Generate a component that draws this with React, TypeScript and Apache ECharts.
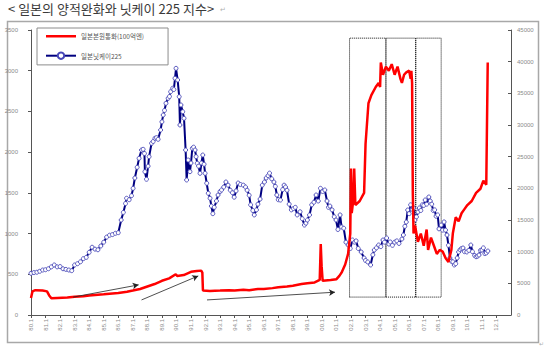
import React, { useEffect, useRef } from "react";
import * as echarts from "echarts";

const TITLE = "< 일본의 양적완화와 닛케이 225 지수>";
const SERIES_NAMES = ["일본본원통화(100억엔)", "일본닛케이225"];
const X_MIN = 1980;
const X_MAX = 2013;
const LEFT_MAX = 3500;
const LEFT_STEP = 500;
const RIGHT_MAX = 45000;
const RIGHT_STEP = 5000;

// [year, value (100억엔)]
const moneyBase: number[][] = [
  [1980.0, 210], [1980.1, 290], [1980.3, 305], [1980.8, 300], [1981.1, 290], [1981.25, 240],
  [1981.4, 205], [1981.8, 210], [1982.5, 215], [1983.0, 225], [1983.6, 230], [1984.0, 240],
  [1984.6, 250], [1985.0, 255], [1985.6, 265], [1986.0, 270], [1986.6, 285], [1987.0, 300],
  [1987.5, 320], [1988.0, 350], [1988.5, 380], [1989.0, 420], [1989.5, 450], [1989.95, 500],
  [1990.05, 480], [1990.5, 490], [1991.0, 530], [1991.4, 540], [1991.7, 545], [1991.78, 520],
  [1991.82, 300], [1992.3, 295], [1993.0, 300], [1993.6, 305], [1994.0, 300], [1994.6, 310],
  [1995.0, 305], [1995.6, 320], [1996.0, 320], [1996.6, 330], [1997.0, 340], [1997.6, 350],
  [1998.0, 360], [1998.6, 380], [1999.0, 390], [1999.5, 400], [1999.85, 430], [1999.92, 870],
  [1999.98, 600], [2000.05, 420], [2000.6, 430], [2001.0, 440], [2001.2, 480], [2001.35, 520],
  [2001.6, 620], [2001.8, 750], [2001.95, 1000], [2002.0, 1800], [2002.05, 1250], [2002.15, 1400],
  [2002.22, 1800], [2002.3, 1350], [2002.6, 1400], [2002.9, 1500], [2003.0, 2100], [2003.2, 2600],
  [2003.4, 2700], [2003.7, 2800], [2003.9, 2850], [2004.0, 2800], [2004.05, 3100], [2004.2, 2950],
  [2004.4, 3050], [2004.6, 3000], [2004.8, 3080], [2005.0, 2950], [2005.2, 3050], [2005.4, 2900],
  [2005.5, 2850], [2005.65, 2950], [2005.8, 2980], [2006.0, 3000], [2006.1, 2900], [2006.15, 3000],
  [2006.2, 2850], [2006.25, 1500], [2006.3, 1000], [2006.4, 1100], [2006.6, 900], [2006.8, 1000],
  [2007.0, 850], [2007.2, 1050], [2007.3, 800], [2007.5, 950], [2007.7, 850], [2007.9, 750],
  [2008.1, 800], [2008.3, 780], [2008.5, 700], [2008.7, 650], [2008.9, 800], [2009.0, 1000],
  [2009.2, 1200], [2009.4, 1150], [2009.6, 1250], [2009.8, 1300], [2010.0, 1350], [2010.3, 1400],
  [2010.6, 1500], [2010.9, 1550], [2011.1, 1650], [2011.3, 1600], [2011.4, 3100],
];

// [year, index level]
const nikkei225: number[][] = [
  [1980.0, 6580], [1980.2, 6700], [1980.4, 6750], [1980.6, 6900], [1980.8, 7100], [1981.0, 7150],
  [1981.2, 7300], [1981.4, 7600], [1981.6, 7900], [1981.8, 7600], [1982.0, 7650], [1982.2, 7300],
  [1982.4, 7200], [1982.6, 7100], [1982.8, 7000], [1983.0, 7900], [1983.2, 8100], [1983.4, 8400],
  [1983.6, 8900], [1983.8, 9100], [1984.0, 9900], [1984.2, 10700], [1984.4, 10400], [1984.6, 10300],
  [1984.8, 10900], [1985.0, 11500], [1985.2, 12300], [1985.4, 12600], [1985.6, 12700], [1985.8, 12900],
  [1986.0, 13000], [1986.2, 15000], [1986.35, 16200], [1986.5, 17600], [1986.57, 18430], [1986.75, 18200],
  [1986.91, 18840], [1987.02, 20000], [1987.14, 21630], [1987.3, 23320], [1987.43, 24740], [1987.6, 26050],
  [1987.71, 26160], [1987.8, 25500], [1987.83, 22630], [1987.94, 21430], [1988.05, 23500], [1988.12, 25000],
  [1988.29, 27110], [1988.4, 27400], [1988.52, 27900], [1988.63, 28000], [1988.74, 27740], [1988.91, 29210],
  [1989.0, 30500], [1989.09, 31580], [1989.18, 32300], [1989.28, 33430], [1989.43, 34220], [1989.52, 34500],
  [1989.6, 35260], [1989.74, 35800], [1989.82, 35600], [1989.9, 37380], [1989.97, 38950], [1990.08, 37110],
  [1990.19, 34470], [1990.24, 30000], [1990.31, 33160], [1990.43, 32100], [1990.52, 31060], [1990.63, 26050],
  [1990.7, 21320], [1990.81, 24470], [1990.93, 22630], [1991.0, 24000], [1991.09, 26320], [1991.18, 26500],
  [1991.28, 26050], [1991.35, 25000], [1991.43, 23950], [1991.52, 23500], [1991.62, 22370], [1991.72, 24000],
  [1991.81, 25260], [1991.9, 23800], [1991.97, 22370], [1992.08, 20800], [1992.19, 19220], [1992.31, 18430],
  [1992.4, 17200], [1992.5, 16000], [1992.6, 17000], [1992.75, 18000], [1992.86, 18950], [1993.0, 19500],
  [1993.1, 19740], [1993.25, 20200], [1993.4, 21000], [1993.55, 20500], [1993.7, 19700], [1993.85, 19300],
  [1993.97, 18600], [1994.1, 19600], [1994.24, 20840], [1994.4, 20600], [1994.6, 20500], [1994.75, 20200],
  [1994.86, 19700], [1995.0, 18900], [1995.1, 17400], [1995.25, 16500], [1995.35, 15800], [1995.5, 16600],
  [1995.6, 17500], [1995.75, 18300], [1995.9, 20500], [1996.05, 21000], [1996.17, 21630], [1996.3, 22000],
  [1996.4, 22400], [1996.55, 21500], [1996.7, 21000], [1996.8, 20300], [1996.9, 18950], [1997.0, 18200],
  [1997.15, 18150], [1997.3, 19800], [1997.4, 20500], [1997.5, 20200], [1997.6, 19700], [1997.75, 17500],
  [1997.9, 16600], [1998.05, 16800], [1998.17, 17000], [1998.3, 15800], [1998.5, 16300], [1998.65, 15200],
  [1998.8, 14200], [1998.9, 14500], [1999.0, 15000], [1999.15, 15800], [1999.3, 17400], [1999.45, 17800],
  [1999.6, 18950], [1999.75, 18000], [1999.9, 20000], [2000.05, 19500], [2000.2, 19740], [2000.35, 18000],
  [2000.45, 17000], [2000.55, 17200], [2000.7, 16600], [2000.85, 15500], [2000.97, 15000], [2001.1, 13500],
  [2001.25, 15800], [2001.35, 13900], [2001.5, 13700], [2001.65, 11500], [2001.8, 11050], [2001.95, 10500],
  [2002.1, 11840], [2002.25, 11500], [2002.35, 11700], [2002.5, 10500], [2002.7, 9950], [2002.9, 9000],
  [2003.0, 8600], [2003.15, 8370], [2003.35, 7900], [2003.5, 9500], [2003.6, 10260], [2003.75, 10600],
  [2003.9, 11050], [2004.05, 10800], [2004.2, 11840], [2004.3, 11500], [2004.45, 12160], [2004.6, 11200],
  [2004.7, 11530], [2004.85, 11000], [2005.0, 11500], [2005.15, 11700], [2005.3, 11300], [2005.5, 12000],
  [2005.6, 12630], [2005.7, 14000], [2005.8, 14680], [2005.9, 16580], [2006.0, 16000], [2006.1, 17400],
  [2006.2, 16700], [2006.3, 16900], [2006.4, 15000], [2006.5, 15500], [2006.6, 16260], [2006.7, 16900],
  [2006.8, 16500], [2006.9, 17400], [2007.0, 17300], [2007.1, 18160], [2007.2, 17500], [2007.35, 18630],
  [2007.45, 18000], [2007.55, 17500], [2007.65, 16500], [2007.75, 16600], [2007.85, 15600], [2007.96, 15800],
  [2008.05, 13600], [2008.2, 14200], [2008.3, 13400], [2008.4, 14700], [2008.5, 13400], [2008.6, 12630],
  [2008.7, 11000], [2008.8, 9000], [2008.9, 8500], [2009.0, 8400], [2009.1, 7900], [2009.2, 8100],
  [2009.3, 9000], [2009.4, 9950], [2009.5, 10300], [2009.6, 10500], [2009.7, 10580], [2009.8, 10000],
  [2009.96, 9950], [2010.1, 10200], [2010.24, 11050], [2010.35, 10000], [2010.5, 9400], [2010.6, 9200],
  [2010.7, 9300], [2010.8, 9470], [2010.9, 10200], [2011.0, 10260], [2011.1, 10600], [2011.2, 9700],
  [2011.3, 9800], [2011.41, 10100],
];

// annotation arrows: [[x0, y0], [x1, y1]] in (year, 100억엔)
const trendArrows: number[][][] = [
  [[1982.9, 220], [1987.4, 370]],
  [[1987.6, 185], [1991.5, 480]],
  [[1992.1, 185], [2000.9, 280]],
];

// dotted boxes: [fromYear, toYear, bottom, top] (100억엔)
const phaseBoxes: number[][] = [
  [2001.9, 2004.4, 220, 3400],
  [2004.4, 2006.45, 220, 3400],
  [2006.45, 2008.2, 220, 3400],
];

export default function App() {
  const ref = useRef<HTMLDivElement>(null);
  useEffect(() => {
    if (!ref.current) return;
    const chart = echarts.init(ref.current, null, { renderer: "svg" });
    const font = "'Noto Sans CJK KR', 'Noto Sans', sans-serif";
    const axisLabel = {
      fontSize: 6,
      color: "#8a8a8a",
      fontFamily: "Arial, 'Liberation Sans', sans-serif",
      formatter: (v: number) => String(v),
    };
    chart.setOption({
      animation: false,
      backgroundColor: "#ffffff",
      grid: { left: 31, right: 39, top: 30, bottom: 36, containLabel: false },
      graphic: [
        {
          type: "text",
          left: 8,
          top: 2,
          style: { text: TITLE, fontSize: 13, fill: "#3a3a3a", fontFamily: font },
        },
        {
          type: "text",
          left: 220,
          top: 6,
          style: { text: "↵", fontSize: 7, fill: "#b0b0b0", fontFamily: "DejaVu Sans" },
        },
        {
          type: "rect",
          shape: { x: 7.5, y: 21.5, width: 531, height: 321 },
          style: { fill: "none", stroke: "#a8a8a8", lineWidth: 1.5 },
          silent: true,
          z: -1,
        },
        {
          type: "text",
          left: 539,
          top: 340,
          style: { text: "↵", fontSize: 6, fill: "#b0b0b0", fontFamily: "DejaVu Sans" },
        },
      ],
      legend: {
        orient: "vertical",
        left: 37,
        top: 28,
        padding: [5, 24, 5, 8],
        itemGap: 12,
        itemWidth: 30,
        itemHeight: 8,
        borderColor: "#8c8c8c",
        borderWidth: 1,
        textStyle: { fontSize: 6.5, color: "#555", fontFamily: font },
        data: [
          { name: SERIES_NAMES[0], icon: "path://M0,0 H30 V2.5 H0 Z" },
          { name: SERIES_NAMES[1] },
        ],
      },
      xAxis: {
        type: "value",
        min: X_MIN,
        max: X_MAX,
        interval: 1,
        splitLine: { show: false },
        axisLine: { lineStyle: { color: "#555", width: 1 } },
        axisTick: { length: 3, lineStyle: { color: "#555" } },
        axisLabel: {
          ...axisLabel,
          rotate: 90,
          margin: 4,
          showMaxLabel: false,
          formatter: (v: number) => `${String(Math.round(v) % 100).padStart(2, "0")}.1`,
        },
      },
      yAxis: [
        {
          type: "value",
          min: 0,
          max: LEFT_MAX,
          interval: LEFT_STEP,
          splitLine: { show: false },
          axisLine: { show: true, lineStyle: { color: "#555" } },
          axisTick: { show: true, length: 3, lineStyle: { color: "#555" } },
          axisLabel: { ...axisLabel, margin: 13 },
        },
        {
          type: "value",
          min: 0,
          max: RIGHT_MAX,
          interval: RIGHT_STEP,
          splitLine: { show: false },
          axisLine: { show: true, lineStyle: { color: "#555" } },
          axisTick: { show: true, inside: true, length: 3, lineStyle: { color: "#555" } },
          axisLabel: { ...axisLabel, margin: 6 },
        },
      ],
      series: [
        {
          name: SERIES_NAMES[1],
          type: "line",
          yAxisIndex: 1,
          data: nikkei225,
          symbol: "circle",
          symbolSize: 4,
          showAllSymbol: true,
          lineStyle: { color: "#000080", width: 2 },
          itemStyle: { color: "#ffffff", borderColor: "#4848b8", borderWidth: 0.9 },
          z: 2,
        },
        {
          name: SERIES_NAMES[0],
          type: "line",
          yAxisIndex: 0,
          data: moneyBase,
          symbol: "none",
          lineStyle: { color: "#ff0000", width: 2.5 },
          itemStyle: { color: "#ff0000" },
          z: 3,
          markLine: {
            silent: true,
            symbol: ["none", "arrow"],
            symbolSize: [5, 6],
            label: { show: false },
            lineStyle: { color: "#222", width: 0.8, type: "solid" },
            data: trendArrows.map(([a, b]) => [{ coord: a }, { coord: b }]),
          },
          markArea: {
            silent: true,
            label: { show: false },
            itemStyle: { color: "rgba(0,0,0,0)", borderColor: "#111", borderWidth: 1, borderType: [1, 1] },
            data: phaseBoxes.map(([x0, x1, y0, y1]) => [{ coord: [x0, y0] }, { coord: [x1, y1] }]),
          },
        },
      ],
    });
    return () => chart.dispose();
  }, []);
  return (
    <div
      ref={ref}
      style={{ position: "fixed", left: 0, top: 0, width: 550, height: 351, background: "#fff" }}
    />
  );
}
